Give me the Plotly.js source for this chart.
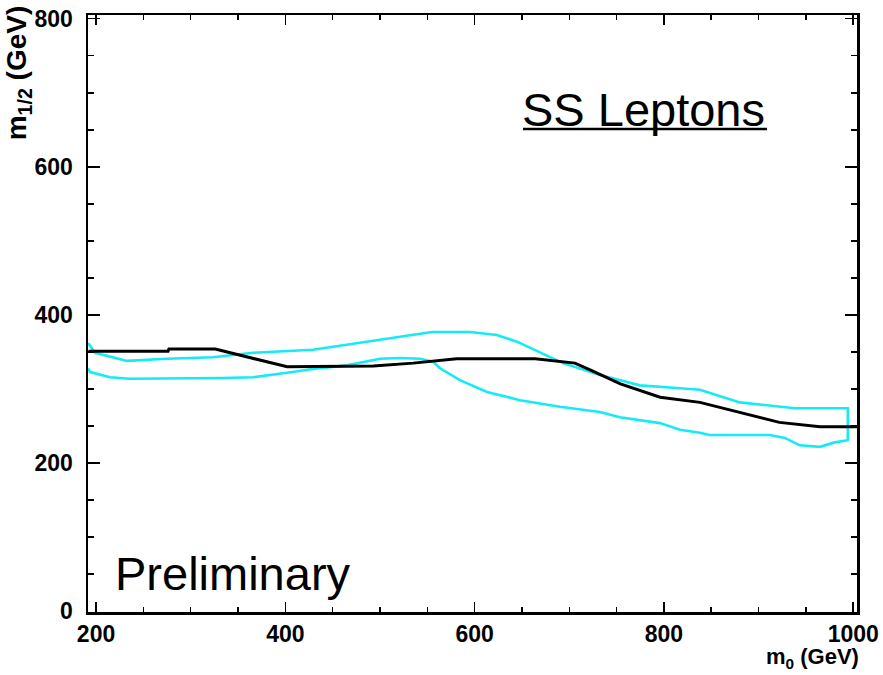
<!DOCTYPE html>
<html>
<head>
<meta charset="utf-8">
<script src="https://cdn.plot.ly/plotly-3.0.1.min.js"></script>
<style>html,body{margin:0;padding:0;background:#fff;}#chart{width:883px;height:675px;}</style>
</head>
<body>
<div id="chart"></div>
<script>
// Black curve (m0 in GeV, m1/2 in GeV)
const blackM0  = [192, 276, 277, 326, 402, 493, 535, 581, 664, 706, 722, 754, 796, 838, 922, 965, 1004];
const blackM12 = [351, 351, 354, 354, 330, 331, 335, 341, 341, 335, 326, 307, 289, 282, 255, 249, 249];

// Cyan band contour
const cyanM0  = [191.5,199,232.7,275,323.6,365.8,429.2,465.1,518,554.9,595,623.6,644.7,669,693.3,732.4,774.6,816.9,838,880.3,912,938.4,994.3,994.3,980.6,964.8,943.6,927.8,912,848.6,838,816.9,795.8,753.5,732.4,690.1,647.9,613,584.5,563.4,556,542.2,521.1,500,465.1,429.2,401.8,365.8,334.1,278.2,235.9,214.8,193.7,191.5];
const cyanM12 = [362,349,338,341,343,349,353,360,370,377,377,373,364,350,335,319,305,301,299,282,278,274,274,231,228,222,224,234,238,238,241,245,254,262,269,276,285,296,312,328,337,341,342,341,332,327,322,316,315,315,314,316,323,328];

const xTickVals = [200, 400, 600, 800, 1000];
const xTickText = ['200', '400', '600', '800', '1000'];
const yTickVals = [0, 200, 400, 600, 800];
const yTickText = ['0', '200', '400', '600', '800'];

const FONT = 'Liberation Sans, Arial, Helvetica, sans-serif';
const bold = a => a.map(s => '<b>' + s + '</b>');

const traces = [
  {x: cyanM0, y: cyanM12, type: 'scatter', mode: 'lines',
   line: {color: 'rgb(20,235,245)', width: 2.6}, hoverinfo: 'skip'},
  {x: blackM0, y: blackM12, type: 'scatter', mode: 'lines',
   line: {color: '#000', width: 3}, hoverinfo: 'skip'}
];

const axisCommon = {
  showline: true, linecolor: '#000', linewidth: 2.5, mirror: 'allticks',
  showgrid: false, zeroline: false, ticks: 'inside', tickcolor: '#000', tickwidth: 1.5,
  tickfont: {family: FONT, size: 23, color: '#000'},
  tickmode: 'array'
};

const layout = {
  width: 883, height: 675,
  margin: {l: 88, r: 26, t: 15, b: 63},
  paper_bgcolor: '#fff', plot_bgcolor: '#fff',
  showlegend: false,
  xaxis: Object.assign({}, axisCommon, {
    range: [191.5, 1004], tickvals: xTickVals, ticktext: bold(xTickText), ticklen: 10,
    minor: {tickvals: [250,300,350,450,500,550,650,700,750,850,900,950], ticks: 'inside', ticklen: 5, tickcolor: '#000', tickwidth: 1.5}
  }),
  yaxis: Object.assign({}, axisCommon, {
    range: [-1, 805], tickvals: yTickVals, ticktext: bold(yTickText), ticklen: 12,
    ticklabelstandoff: 8,
    minor: {tickvals: [50,100,150,250,300,350,450,500,550,650,700,750], ticks: 'inside', ticklen: 6, tickcolor: '#000', tickwidth: 1.5}
  }),
  shapes: [
    {type: 'line', xref: 'paper', yref: 'paper', x0: 0.5657, x1: 0.8830, y0: 0.8090, y1: 0.8090,
     line: {color: '#000', width: 2.5}}
  ],
  annotations: [
    {text: 'SS Leptons', xref: 'paper', yref: 'paper', x: 0.562, y: 0.8425,
     xanchor: 'left', yanchor: 'middle', showarrow: false,
     font: {family: FONT, size: 47, color: '#000'}},
    {text: 'Preliminary', xref: 'paper', yref: 'paper', x: 0.033, y: 0.0637,
     xanchor: 'left', yanchor: 'middle', showarrow: false,
     font: {family: FONT, size: 47, color: '#000'}},
    {text: '<b>m<sub>1/2</sub> (GeV)</b>', xref: 'paper', yref: 'paper', x: -0.09, y: 1.02,
     xanchor: 'center', yanchor: 'top', textangle: -90, showarrow: false,
     font: {family: FONT, size: 28, color: '#000'}},
    {text: '<b>m<sub>0</sub> (GeV)</b>', xref: 'paper', yref: 'paper', x: 1.005, y: -0.104,
     xanchor: 'right', yanchor: 'bottom', showarrow: false,
     font: {family: FONT, size: 22, color: '#000'}}
  ]
};

Plotly.newPlot('chart', traces, layout, {staticPlot: true, displayModeBar: false});
</script>
</body>
</html>
